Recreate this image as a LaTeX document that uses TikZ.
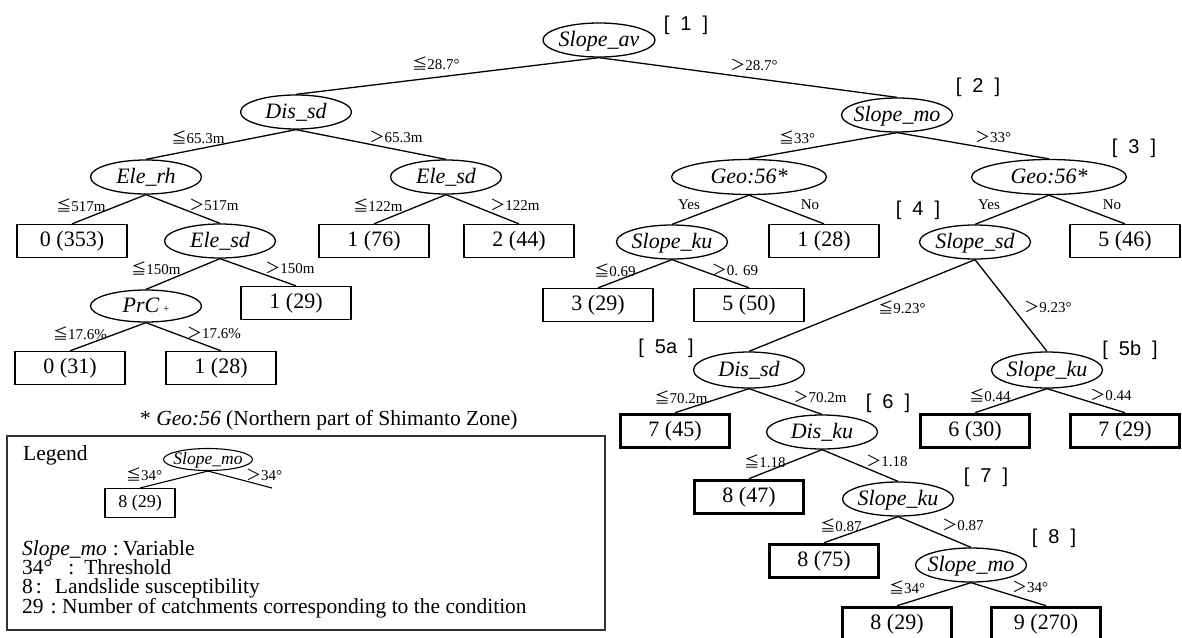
\documentclass[tikz,border=0pt]{standalone}
\usepackage{fontspec}
\setmainfont{Liberation Serif}
\newfontfamily\sansbr{Liberation Sans}
\newfontfamily\jpsym{Noto Sans CJK JP}
\usetikzlibrary{shapes.geometric}

% text sizes
\newcommand{\mainsz}{\fontsize{22}{22}\selectfont}
\newcommand{\condsz}{\fontsize{15}{15}\selectfont}
\newcommand{\tagsz}{\sansbr\fontsize{20}{20}\selectfont}
% comparison signs
\newcommand{\symLE}{{\jpsym ≦}}
\newcommand{\symGT}{{\jpsym ＞}}
% variable name set inside an ellipse of fixed size
\newcommand{\vname}[1]{\makebox[0pt]{\mainsz\itshape\raisebox{-0.3em}[0pt][0pt]{#1}}}
\newcommand{\smallvname}[1]{\makebox[0pt]{\fontsize{17.5}{17.5}\selectfont\itshape\raisebox{-0.3em}[0pt][0pt]{#1}}}
\newcommand{\brk}[1]{[\hspace{11pt}#1\hspace{11pt}]}

\tikzset{
  var/.style={ellipse, draw, line width=1.3pt, minimum width=111pt, minimum height=34pt, inner sep=0pt},
  widevar/.style={var, minimum width=155pt, minimum height=35pt},
  leaf/.style={rectangle, draw, line width=1.3pt, minimum width=110pt, minimum height=33pt, inner sep=0pt, font=\mainsz},
  hileaf/.style={leaf, line width=3.6pt, minimum width=109pt, minimum height=33pt},
  cond/.style={inner sep=0pt, font=\condsz},
  tag/.style={inner sep=0pt, font=\tagsz},
  branch/.style={line width=1.3pt},
  note/.style={inner sep=0pt, anchor=base west, font=\fontsize{21.5}{21.5}\selectfont},
  keyline/.style={note, text height=14.5pt, text depth=3pt},
}

\begin{document}
\begin{tikzpicture}[x=1pt, y=-1pt]
\useasboundingbox[fill=white] (0,0) rectangle (1182,637);

% ---- split variables ----
\node[var, minimum width=112pt] (n1) at (599,40) {\vname{Slope\_av}};
\node[var] (n2) at (296,112) {\vname{Dis\_sd}};
\node[var] (n3) at (897,115) {\vname{Slope\_mo}};
\node[var] (n4) at (146,177) {\vname{Ele\_rh}};
\node[var] (n5) at (446,177) {\vname{Ele\_sd}};
\node[widevar] (n6) at (749,177) {\vname{Geo:56*}};
\node[widevar] (n7) at (1049,177) {\vname{Geo:56*}};
\node[var] (n8) at (220,241) {\vname{Ele\_sd}};
\node[var] (n9) at (672,242) {\vname{Slope\_ku}};
\node[var] (n10) at (975,242) {\vname{Slope\_sd}};
\node[var, minimum height=32pt] (n11) at (146,306) {\vname{PrC\,{\upshape\fontsize{11}{11}\selectfont +}}};
\node[var, minimum height=36pt] (n12) at (749,370) {\vname{Dis\_sd}};
\node[var, minimum height=36pt] (n13) at (1047,370) {\vname{Slope\_ku}};
\node[var] (n14) at (822,432) {\vname{Dis\_ku}};
\node[var] (n15) at (898,499) {\vname{Slope\_ku}};
\node[var] (n16) at (971,565) {\vname{Slope\_mo}};

% ---- terminal classes ----
\node[leaf] (t1) at (72,241) {0 (353)};
\node[leaf] (t2) at (374,241) {1 (76)};
\node[leaf] (t3) at (519,241) {2 (44)};
\node[leaf] (t4) at (824,241) {1 (28)};
\node[leaf] (t5) at (1125,241) {5 (46)};
\node[leaf] (t6) at (296,303) {1 (29)};
\node[leaf] (t7) at (598,305) {3 (29)};
\node[leaf] (t8) at (749,305) {5 (50)};
\node[leaf] (t9) at (70,368) {0 (31)};
\node[leaf] (t10) at (221,368) {1 (28)};
\node[hileaf] (t11) at (675,431) {7 (45)};
\node[hileaf] (t12) at (975,431) {6 (30)};
\node[hileaf] (t13) at (1125,431) {7 (29)};
\node[hileaf] (t14) at (749,497) {8 (47)};
\node[hileaf] (t15) at (824,561) {8 (75)};
\node[hileaf] (t16) at (897,624) {8 (29)};
\node[hileaf] (t17) at (1046,624) {9 (270)};

% ---- branches ----
\begin{scope}[branch]
\draw (n1.south) -- (n2.north);
\draw (n1.south) -- (n3.north);
\draw (n2.south) -- (n4.north);
\draw (n2.south) -- (n5.north);
\draw (n3.south) -- (n6.north);
\draw (n3.south) -- (n7.north);
\draw (n4.south) -- (t1.north);
\draw (n4.south) -- (n8.north);
\draw (n5.south) -- (t2.north);
\draw (n5.south) -- (t3.north);
\draw (n6.south) -- (n9.north);
\draw (n6.south) -- (t4.north);
\draw (n7.south) -- (n10.north);
\draw (n7.south) -- (t5.north);
\draw (n8.south) -- (n11.north);
\draw (n8.south) -- (t6.north);
\draw (n9.south) -- (t7.north);
\draw (n9.south) -- (t8.north);
\draw (n10.south) -- (n12.north);
\draw (n10.south) -- (n13.north);
\draw (n11.south) -- (t9.north);
\draw (n11.south) -- (t10.north);
\draw (n12.south) -- (t11.north);
\draw (n12.south) -- (n14.north);
\draw (n13.south) -- (t12.north);
\draw (n13.south) -- (t13.north);
\draw (n14.south) -- (t14.north);
\draw (n14.south) -- (n15.north);
\draw (n15.south) -- (t15.north);
\draw (n15.south) -- (n16.north);
\draw (n16.south) -- (t16.north);
\draw (n16.south) -- (t17.north);
\end{scope}

% ---- thresholds ----
\node[cond] (c1) at (436,63) {\symLE28.7°};
\node[cond] (c2) at (754,65) {\symGT28.7°};
\node[cond] (c3) at (198,137) {\symLE65.3m};
\node[cond] (c4) at (396,137) {\symGT65.3m};
\node[cond] (c5) at (797,137) {\symLE33°};
\node[cond] (c6) at (993,137) {\symGT33°};
\node[cond] (c7) at (81,205) {\symLE517m};
\node[cond] (c8) at (214,205) {\symGT517m};
\node[cond] (c9) at (378,205) {\symLE122m};
\node[cond] (c10) at (515,205) {\symGT122m};
\node[cond] (c11) at (689,205) {Yes};
\node[cond] (c12) at (810,205) {No};
\node[cond] (c13) at (989,205) {Yes};
\node[cond] (c14) at (1112,205) {No};
\node[cond] (c15) at (156,268) {\symLE150m};
\node[cond] (c16) at (290,268) {\symGT150m};
\node[cond] (c17) at (615,270) {\symLE0.69};
\node[cond] (c18) at (735,270) {\symGT0. 69};
\node[cond] (c19) at (902,307) {\symLE9.23°};
\node[cond] (c20) at (1048,307) {\symGT9.23°};
\node[cond] (c21) at (80,333) {\symLE17.6\%};
\node[cond] (c22) at (214,333) {\symGT17.6\%};
\node[cond] (c23) at (681,397) {\symLE70.2m};
\node[cond] (c24) at (820,397) {\symGT70.2m};
\node[cond] (c25) at (990,395) {\symLE0.44};
\node[cond] (c26) at (1111,395) {\symGT0.44};
\node[cond] (c27) at (765,461) {\symLE1.18};
\node[cond] (c28) at (887,461) {\symGT1.18};
\node[cond] (c29) at (841,525) {\symLE0.87};
\node[cond] (c30) at (963,525) {\symGT0.87};
\node[cond] (c31) at (907,587) {\symLE34°};
\node[cond] (c32) at (1030,587) {\symGT34°};

% ---- node numbers ----
\node[tag] (k1) at (686,25) {\brk{1}};
\node[tag] (k2) at (978,87) {\brk{2}};
\node[tag] (k3) at (1134,148) {\brk{3}};
\node[tag] (k4) at (918,210) {\brk{4}};
\node[tag] (k5a) at (666,348) {\brk{5a}};
\node[tag] (k5b) at (1130,350) {\brk{5b}};
\node[tag] (k6) at (888,403) {\brk{6}};
\node[tag] (k7) at (986,477) {\brk{7}};
\node[tag] (k8) at (1054,538) {\brk{8}};

% ---- footnote ----
\node[note] (fn) at (140,425) {* \textit{Geo:56} (Northern part of Shimanto Zone)};

% ---- legend ----
\node[draw=black!80, line width=1.2pt, minimum width=598pt, minimum height=194pt, inner sep=0pt] (lgframe) at (306,533) {};
\node[note] (lgtitle) at (23,460) {Legend};
\node[var, line width=1.1pt, minimum width=89pt, minimum height=22pt] (lgvar) at (208,459.5) {\smallvname{Slope\_mo}};
\node[leaf, line width=1.1pt, minimum width=70pt, minimum height=29pt, font=\fontsize{18}{18}\selectfont] (lgleaf) at (140,503) {8 (29)};
\coordinate (lgend) at (272,488);
\draw[branch, line width=1.1pt] (lgvar.south) -- (lgleaf.north);
\draw[branch, line width=1.1pt] (lgvar.south) -- (lgend);
\node[cond] (lgc1) at (144,474) {\symLE34°};
\node[cond] (lgc2) at (264,475) {\symGT34°};
\node[keyline] (lg1) at (22,555) {\textit{Slope\_mo}\hspace{6pt}:\hspace{4pt}Variable};
\node[keyline] (lg2) at (22,574.5) {34°\hspace{16pt}:\hspace{10pt}Threshold};
\node[keyline] (lg3) at (22,593.5) {8\hspace{3pt}:\hspace{13pt}Landslide susceptibility};
\node[keyline] (lg4) at (22,613) {29\hspace{7pt}:\hspace{5.5pt}Number of catchments corresponding to the condition};
\end{tikzpicture}
\end{document}
